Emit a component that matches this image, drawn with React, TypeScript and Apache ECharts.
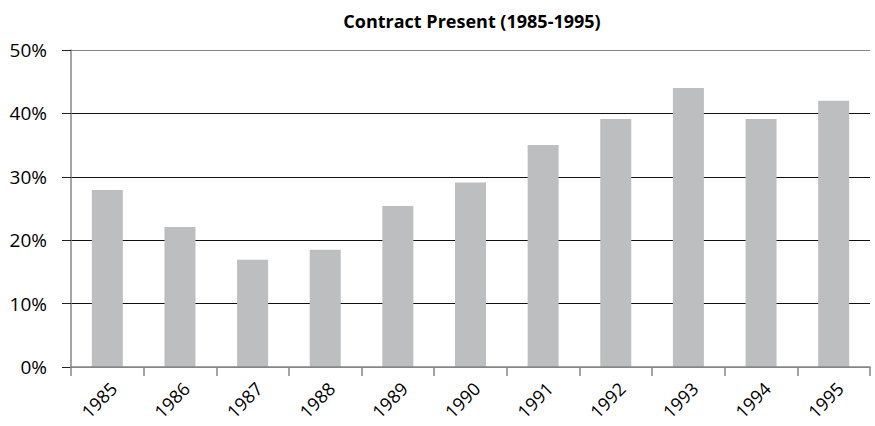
import React, { useEffect, useRef } from "react";
import * as echarts from "echarts";

const categories = ["1985", "1986", "1987", "1988", "1989", "1990", "1991", "1992", "1993", "1994", "1995"];
const values = [27.9, 22.1, 16.9, 18.5, 25.4, 29.1, 35.0, 39.1, 44.0, 39.1, 42.0];
const titleText = "Contract Present (1985-1995)";

export default function App() {
  const ref = useRef<HTMLDivElement>(null);
  useEffect(() => {
    const chart = echarts.init(ref.current!, null, { renderer: "svg" });
    const font = "'Open Sans', 'Noto Sans', sans-serif";
    chart.setOption({
      animation: false,
      title: {
        text: titleText,
        left: 472,
        top: 12,
        padding: 0,
        textAlign: "center",
        textStyle: { fontFamily: font, fontSize: 18, fontWeight: "bold", color: "#000" },
      },
      grid: { left: 71, right: 5, top: 50, bottom: 59, containLabel: false, outerBoundsMode: "none" },
      xAxis: {
        type: "category",
        data: categories,
        axisLine: { lineStyle: { color: "#868686", width: 1.5 } },
        axisTick: { show: true, length: 9, alignWithLabel: false, lineStyle: { color: "#868686", width: 1.5 } },
        axisLabel: {
          rotate: 45,
          fontFamily: font,
          fontSize: 18,
          lineHeight: 18,
          color: "#000",
          margin: 12,
          interval: 0,
          verticalAlign: "top",
        },
        z: 5,
      },
      yAxis: {
        type: "value",
        min: 0,
        max: 50,
        interval: 10,
        axisLine: { show: true, lineStyle: { color: "#868686", width: 1.5 } },
        axisTick: { show: true, length: 9, lineStyle: { color: "#222" } },
        axisLabel: {
          formatter: "{value}%",
          fontFamily: font,
          fontSize: 19,
          color: "#000",
          margin: 24,
        },
        splitLine: {
          show: true,
          lineStyle: { color: ["#868686", "#111", "#111", "#111", "#111", "#868686"], width: 1.2 },
        },
      },
      series: [
        {
          type: "bar",
          data: values,
          barWidth: 31,
          itemStyle: { color: "#bdbebf" },
          z: 2,
        },
      ],
    });
    return () => chart.dispose();
  }, []);
  return <div ref={ref} style={{ width: 875, height: 426, position: "absolute", left: 0, top: 0 }} />;
}
